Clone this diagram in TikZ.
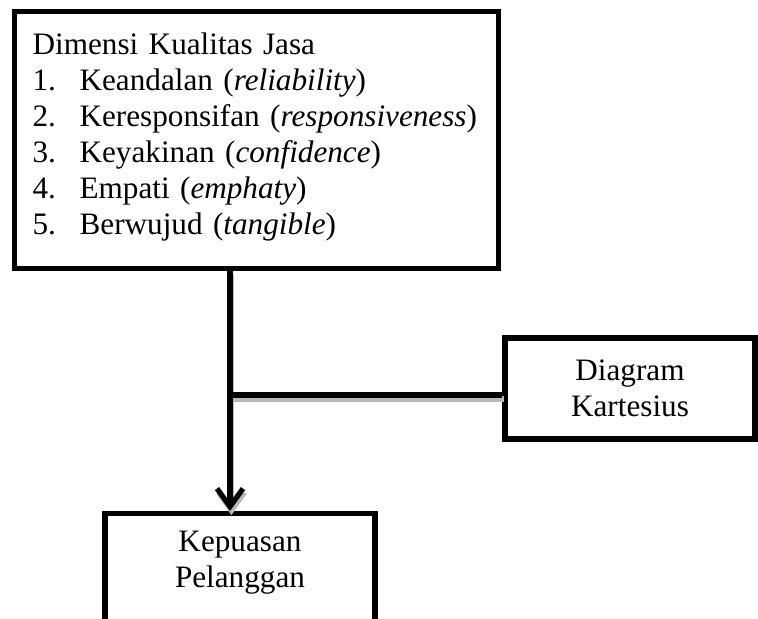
\documentclass[tikz,border=0pt]{standalone}
\usepackage{fontspec}
\setmainfont{Liberation Serif}
\usetikzlibrary{arrows.meta, positioning}

\begin{document}
\begin{tikzpicture}[x=0.5pt, y=-0.5pt,
        box/.style={rectangle, draw, line width=2.6pt, font=\fontsize{15.6}{18}\selectfont, align=center},
        link/.style={line width=2.6pt, preaction={draw=gray!55, line width=2.6pt, transform canvas={shift={(0.7pt,-2pt)}}}}]
        \useasboundingbox (0, 0) rectangle (758, 618);
        \clip (0, 0) rectangle (758, 618);

        \node[box, anchor=north west, align=left, text width=224pt, inner xsep=9pt, minimum height=128.5pt] (dimensi) at (12, 9) {Dimensi Kualitas Jasa\\
            \makebox[23.5pt][l]{1.}Keandalan (\textit{reliability})\\
            \makebox[23.5pt][l]{2.}Keresponsifan (\textit{responsiveness})\\
            \makebox[23.5pt][l]{3.}Keyakinan (\textit{confidence})\\
            \makebox[23.5pt][l]{4.}Empati (\textit{emphaty})\\
            \makebox[23.5pt][l]{5.}Berwujud (\textit{tangible})\rule[-6.5pt]{0pt}{0pt}};
        \node[box, minimum width=125pt, minimum height=50.5pt] (kartesius) at (630, 388.5) {Diagram\\Kartesius};
        \node[box, anchor=north, minimum width=135pt, minimum height=54.5pt] (kepuasan) at (240, 511) {Kepuasan\\Pelanggan\rule[-8.4pt]{0pt}{0pt}};

        \coordinate (join) at (230, 395);
        \draw[link] (dimensi.south -| join) -- (join)
            (join) -- (join -| kartesius.west);
        \draw[link, -{Straight Barb[length=9pt, width=13pt]}] (join) -- (kepuasan.north -| join);
\end{tikzpicture}
\end{document}
